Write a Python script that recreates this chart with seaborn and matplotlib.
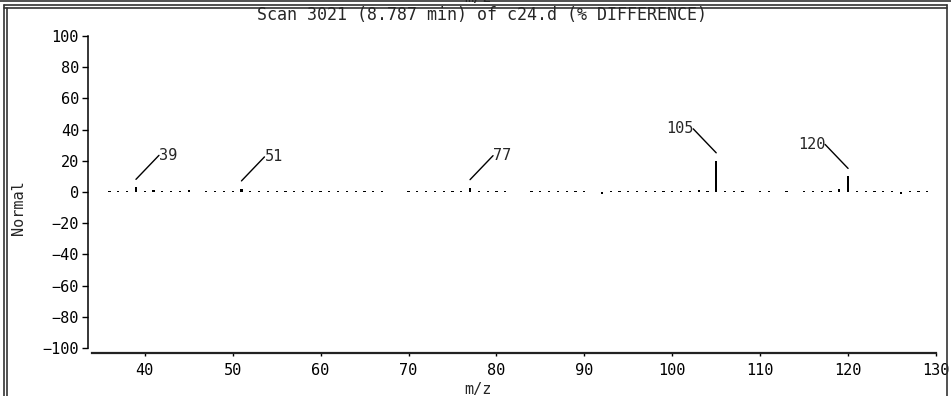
import matplotlib
matplotlib.use("Agg")
import matplotlib.pyplot as plt
from matplotlib import transforms
from matplotlib.lines import Line2D
import numpy as np
import pandas as pd
import seaborn as sns

# ---- data ----
mz = [36, 37, 38, 39, 40, 41, 42, 43, 44, 45,
      47, 48, 49, 50, 51, 52, 53, 54, 55, 56, 57, 58, 59, 60, 61, 62, 63, 64, 65, 66, 67,
      70, 71, 72, 73, 74, 75, 76, 77, 78, 79, 80, 81,
      84, 85, 86, 87, 88, 89, 90,
      92, 93, 94, 95, 96, 97, 98, 99, 100, 101, 102, 103, 104, 105, 106, 107, 108,
      110, 111, 113, 115, 116, 117, 118, 119, 120, 121, 122, 123, 124, 125, 126, 127, 128, 129]
intensity = [0.8, 0.8, 0.8, 3.0, 0.8, 1.3, 0.8, 0.8, 0.8, 1.3,
             0.8, 0.8, 0.8, 0.8, 2.0, 0.8, 0.8, 0.8, 0.8, 0.8, 0.8, 0.8, 0.8, 0.8, 0.8, 0.8, 0.8, 0.8, 0.8, 0.8, 0.8,
             0.8, 0.8, 0.8, 0.8, 0.8, 0.8, 0.8, 2.8, 0.8, 0.8, 0.8, 0.8,
             0.8, 0.8, 0.8, 0.8, 0.8, 0.8, 0.8,
             -1.0, 0.8, 0.8, 0.8, 0.8, 0.8, 0.8, 0.8, 0.8, 0.8, 0.8, 1.3, 0.8, 20.0, 0.8, 0.8, 0.8,
             0.8, 0.8, 0.8, 0.8, 0.8, 0.8, 0.8, 2.0, 10.0, 0.8, 0.8, 0.8, 0.8, 0.8, -1.0, 0.8, 0.8, 0.8]
labeled_mz = [39, 51, 77, 105, 120]
label_side = ["right", "right", "right", "left", "left"]
x_ticks = [40, 50, 60, 70, 80, 90, 100, 110, 120, 130]
y_ticks = [-100, -80, -60, -40, -20, 0, 20, 40, 60, 80, 100]
title = "Scan 3021 (8.787 min) of c24.d (% DIFFERENCE)"
x_label = "m/z"
y_label = "Normal"

sns.set_style("white")
plt.rcParams["font.family"] = ["DejaVu Sans Mono"]
FS = 11

W, H = 951, 396
fig = plt.figure(figsize=(W / 100, H / 100), dpi=100)
ax = fig.add_axes([92 / W, 43 / H, 844 / W, 331 / H])

df = pd.DataFrame({"mz": mz, "val": intensity})
sns.barplot(data=df, x="mz", y="val", native_scale=True, width=0.25,
            color="black", saturation=1, errorbar=None, linewidth=0, ax=ax)

ax.set_xlim(34, 130)
ax.set_ylim(-103.2, 109)
ax.set_xticks(x_ticks)
ax.set_xticklabels([str(t) for t in x_ticks])
ax.set_yticks(y_ticks)
ax.set_yticklabels([str(t).replace("-", "\u2212") for t in y_ticks])

for s in ("top", "right"):
    ax.spines[s].set_visible(False)
ax.spines["left"].set_position(("outward", 2.9))
ax.spines["left"].set_bounds(-100, 100)
ax.spines["left"].set_linewidth(1.1)
ax.spines["left"].set_color("black")
ax.spines["bottom"].set_linewidth(1.6)
ax.spines["bottom"].set_color("#222222")

ax.tick_params(axis="y", direction="out", length=4, width=1, pad=2.5,
               labelsize=FS, left=True, colors="black")
ax.tick_params(axis="x", direction="out", length=2.5, width=1, pad=5,
               labelsize=FS, bottom=True, colors="black")

ax.set_ylabel(y_label, fontsize=FS)
ax.yaxis.set_label_coords(-0.078, 0.438)
ax.set_xlabel(x_label, fontsize=FS)
ax.xaxis.set_label_coords(0.457, -0.087)

# peak labels with leader lines
up8 = transforms.offset_copy(ax.transData, fig=fig, x=0, y=8, units="dots")
for m, side in zip(labeled_mz, label_side):
    v = df.loc[df.mz == m, "val"].iloc[0]
    right = side == "right"
    dx = 23 if right else -23
    ax.annotate(str(m), xy=(m, v), xycoords=up8, xytext=(dx, 24),
                textcoords="offset pixels",
                ha="left" if right else "right", va="center",
                fontsize=FS,
                arrowprops=dict(arrowstyle="-", color="black", lw=1,
                                shrinkA=0, shrinkB=0, patchA=None,
                                relpos=(0, 0.5) if right else (1, 0.5)))

# title
fig.text(482 / W, 1 - 15 / H, title, ha="center", va="center", fontsize=12)

# leftover label of the panel above (clipped at the top edge)
fig.text(478 / W, 1 - 2 / H, "m/z", ha="center", va="baseline", fontsize=FS)

# window frame lines
def hline(y, x0, x1, lw=1.2, c="#333333"):
    fig.add_artist(Line2D([x0 / W, x1 / W], [1 - y / H, 1 - y / H],
                          transform=fig.transFigure, lw=lw, color=c))

def vline(x, y0, y1, lw=1.2, c="#333333"):
    fig.add_artist(Line2D([x / W, x / W], [1 - y0 / H, 1 - y1 / H],
                          transform=fig.transFigure, lw=lw, color=c))

hline(1, 0, W)
hline(4.5, 4, 947)
hline(7.5, 4, 947)
vline(4, 4.5, H)
vline(6.5, 7.5, H)
vline(947, 4.5, H)

fig.savefig("out.png", dpi=100)
